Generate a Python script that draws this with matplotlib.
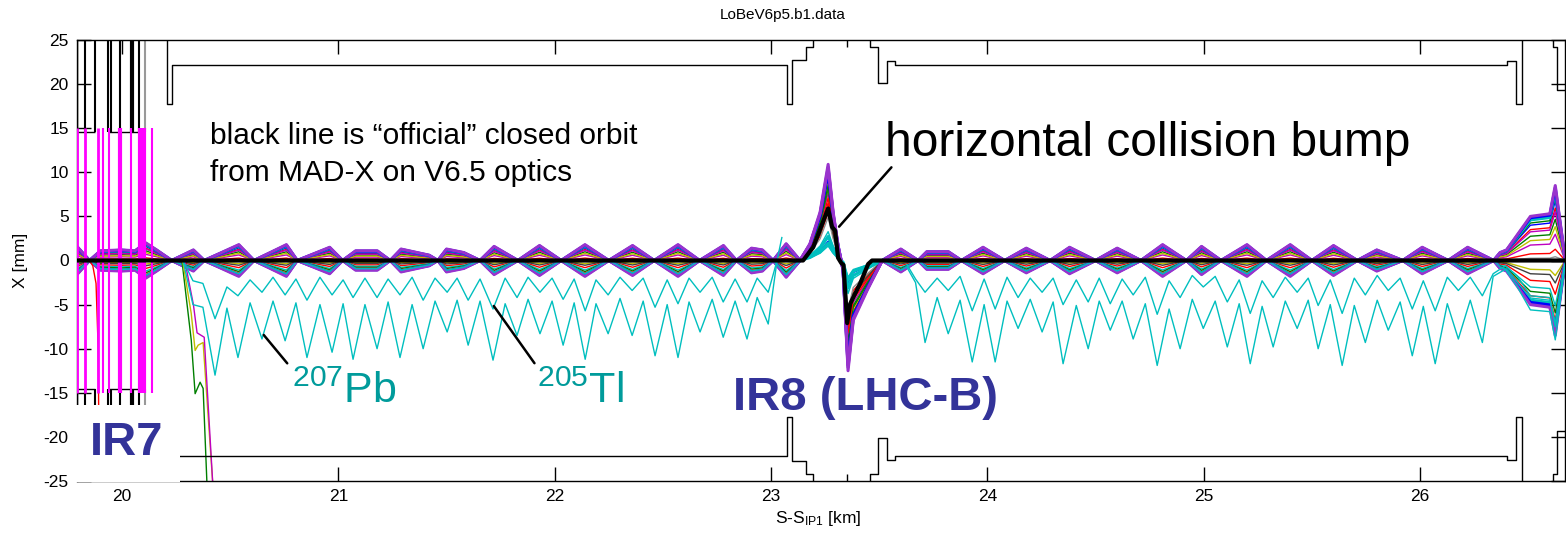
import matplotlib.pyplot as plt
import numpy as np

plt.rcParams['font.family'] = ['Liberation Sans', 'DejaVu Sans']
plt.rcParams['axes.unicode_minus'] = False
plt.rcParams['mathtext.fontset'] = 'custom'
plt.rcParams['mathtext.rm'] = 'Liberation Sans'
plt.rcParams['mathtext.it'] = 'Liberation Sans'

# outer envelope of the orbit family in the arc 7-8 [km, mm]
arc1_s = [19.792, 19.85, 19.90, 20.00, 20.06, 20.11, 20.16, 20.23, 20.33, 20.38, 20.54, 20.61,
          20.76, 20.81, 20.96, 21.02, 21.08, 21.18, 21.24, 21.29, 21.42, 21.46, 21.50, 21.58,
          21.655, 21.72, 21.83, 21.93, 22.03, 22.14, 22.25, 22.36, 22.46, 22.57, 22.67, 22.78,
          22.84, 22.91, 22.96, 23.01, 23.07, 23.134]
arc1_amp = [1.6, 0.0, 1.1, 1.2, 1.1, 2.0, 1.2, 0.0, 1.2, 0.0, 1.8, 0.0,
            1.8, 0.0, 1.5, 0.0, 1.1, 1.1, 0.0, 1.3, 0.6, 0.0, 1.3, 0.9,
            0.0, 1.6, 0.0, 1.7, 0.0, 1.8, 0.0, 1.7, 0.0, 1.8, 0.0, 1.7,
            0.0, 1.4, 1.2, 0.0, 1.9, 0.0]
# outermost orbit through the IR8 collision bump
ir8_s = [23.134, 23.18, 23.227, 23.264, 23.287, 23.31, 23.333, 23.356, 23.38, 23.444, 23.514]
ir8_x = [0.0, 1.9, 5.5, 10.9, 5.5, 1.7, -1.1, -12.5, -6.8, -3.4, 0.0]
# arc 8-1 envelope incl. the fan at the right edge
arc2_s = [23.514, 23.60, 23.68, 23.72, 23.82, 23.88, 23.98, 24.08, 24.18, 24.29, 24.38, 24.50,
          24.60, 24.71, 24.81, 24.92, 24.99, 25.08, 25.20, 25.29, 25.40, 25.50, 25.60, 25.71,
          25.80, 25.92, 26.01, 26.13, 26.22, 26.34, 26.37, 26.40, 26.51, 26.60, 26.625, 26.67]
arc2_amp = [0.0, 1.3, 0.0, 1.0, 1.0, 0.0, 1.5, 0.0, 1.4, 0.0, 1.5, 0.0,
            1.4, 0.0, 1.8, 0.0, 1.6, 0.0, 1.8, 0.0, 1.8, 0.0, 1.7, 0.0,
            1.2, 0.0, 1.5, 0.0, 1.5, 0.0, 0.9, 1.2, 5.0, 5.3, 8.5, 0.2]

line_colors = ['#ff0000', '#bfbf00', '#909090', '#ff0000', '#bf00bf', '#007f00', '#404040',
               '#ff0000', '#00bfbf', '#bfbf00', '#007f00', '#ff0000', '#bf00bf', '#0000ff',
               '#007f00', '#00bfbf', '#0000ff', '#00bfbf', '#0000ff', '#9933cc', '#9933cc',
               '#00bfbf']
env_factor = [0.15, -0.2, 0.05, -0.45, 0.35, 0.55, -0.3, 0.7, -0.6, 0.45, -0.7,
              -0.8, 0.65, 0.8, 0.85, -0.9, -0.95, 0.92, 0.97, 1.0, -1.0, -0.85]
bump_factor = [0.5, 0.55, 0.45, 0.6, 0.7, 0.75, 0.55, 0.85, 0.3, 0.8, 0.78,
               0.65, 0.9, 0.2, 0.88, 0.25, 0.92, 0.18, 0.95, 1.0, 0.97, 0.15]

# "official" closed orbit
official_s = [19.792, 23.148, 23.195, 23.264, 23.282, 23.296, 23.31, 23.325, 23.335,
              23.352, 23.366, 23.412, 23.449, 23.467, 26.67]
official_x = [0.0, 0.0, 1.5, 5.9, 3.8, 3.4, 0.3, -0.3, -0.5, -7.1, -4.9, -2.6, -0.4, 0.0, 0.0]

# 205Tl orbit
tl_s = [20.282, 20.328, 20.374, 20.430, 20.485, 20.536, 20.592, 20.647, 20.698, 20.754, 20.804,
        20.855, 20.915, 20.971, 21.022, 21.068, 21.123, 21.179, 21.230, 21.285, 21.341, 21.392,
        21.447, 21.503, 21.549, 21.600, 21.655, 21.715, 21.771, 21.826, 21.877, 21.932, 21.988,
        22.039, 22.090, 22.141, 22.191, 22.247, 22.302, 22.358, 22.409, 22.464, 22.520, 22.570,
        22.621, 22.672, 22.728, 22.779, 22.834, 22.889, 22.936, 22.987, 23.028, 23.05]
tl_x = [0.0, -2.3, -2.6, -6.6, -3.0, -4.0, -2.2, -3.6, -1.9, -3.9, -2.1,
        -4.5, -1.9, -3.9, -2.2, -4.2, -2.0, -4.2, -2.1, -3.9, -1.9, -4.5,
        -2.0, -3.6, -2.0, -4.5, -2.1, -5.5, -2.0, -4.2, -1.9, -3.6, -2.0,
        -4.4, -2.1, -5.7, -2.2, -3.9, -1.9, -3.4, -2.0, -5.3, -2.2, -4.9,
        -2.0, -3.6, -1.9, -4.7, -2.1, -4.7, -2.0, -3.6, 0.0, 2.6]
tl2_s = [23.629, 23.668, 23.712, 23.768, 23.819, 23.874, 23.930, 23.985, 24.036, 24.091, 24.142,
         24.198, 24.253, 24.304, 24.350, 24.411, 24.466, 24.517, 24.568, 24.623, 24.674, 24.730,
         24.785, 24.840, 24.891, 24.947, 24.998, 25.053, 25.109, 25.164, 25.215, 25.270, 25.321,
         25.377, 25.432, 25.483, 25.529, 25.585, 25.640, 25.696, 25.747, 25.802, 25.853, 25.908,
         25.964, 26.015, 26.070, 26.126, 26.177, 26.232, 26.288, 26.338, 26.394, 26.45, 26.51,
         26.60, 26.625, 26.67]
tl2_x = [-0.5, -2.1, -3.6, -2.0, -3.4, -1.8, -5.7, -2.1, -5.5, -1.9, -4.2,
         -2.0, -3.6, -2.0, -5.0, -2.2, -4.7, -2.0, -4.9, -2.1, -3.9, -1.9,
         -6.1, -2.3, -4.2, -1.7, -3.0, -1.8, -4.7, -2.2, -6.0, -2.3, -4.2,
         -1.9, -3.6, -2.0, -5.1, -2.2, -6.0, -2.0, -3.9, -1.7, -3.4, -2.0,
         -5.5, -2.3, -5.7, -1.9, -3.4, -1.9, -4.0, -1.5, -0.6, -1.8, -4.0,
         -4.2, -7.5, -0.5]
# 207Pb orbit
pb_s = [20.282, 20.328, 20.374, 20.430, 20.485, 20.536, 20.592, 20.647, 20.698, 20.754, 20.804,
        20.855, 20.915, 20.971, 21.022, 21.068, 21.123, 21.179, 21.230, 21.285, 21.341, 21.392,
        21.447, 21.503, 21.549, 21.600, 21.655, 21.715, 21.771, 21.826, 21.877, 21.932, 21.988,
        22.039, 22.090, 22.141, 22.191, 22.247, 22.302, 22.358, 22.409, 22.464, 22.520, 22.570,
        22.621, 22.672, 22.728, 22.779, 22.834, 22.889, 22.936, 22.987, 23.028]
pb_x = [0.0, -5.0, -5.3, -13.0, -5.4, -11.0, -4.8, -8.9, -4.6, -9.1, -4.8,
        -11.0, -5.0, -10.4, -4.9, -11.2, -5.0, -10.0, -4.7, -11.0, -5.0, -10.0,
        -4.6, -8.1, -4.5, -9.6, -4.6, -11.3, -4.9, -8.5, -4.4, -8.3, -4.6,
        -9.6, -4.8, -11.2, -4.9, -8.3, -4.3, -8.5, -4.6, -10.8, -5.0, -11.0,
        -4.7, -8.1, -4.4, -8.7, -4.6, -8.9, -4.2, -7.2, 0.0]
pb2_s = [23.629, 23.668, 23.712, 23.768, 23.819, 23.874, 23.930, 23.985, 24.036, 24.091, 24.142,
         24.198, 24.253, 24.304, 24.350, 24.411, 24.466, 24.517, 24.568, 24.623, 24.674, 24.730,
         24.785, 24.840, 24.891, 24.947, 24.998, 25.053, 25.109, 25.164, 25.215, 25.270, 25.321,
         25.377, 25.432, 25.483, 25.529, 25.585, 25.640, 25.696, 25.747, 25.802, 25.853, 25.908,
         25.964, 26.015, 26.070, 26.126, 26.177, 26.232, 26.288, 26.338, 26.394, 26.45, 26.51,
         26.60, 26.625, 26.67]
pb2_x = [-0.8, -2.5, -9.3, -4.2, -8.3, -4.5, -11.5, -5.0, -11.5, -4.6, -7.7,
         -4.4, -8.1, -4.7, -11.7, -5.1, -10.0, -4.6, -7.9, -4.6, -8.9, -4.9,
         -11.9, -5.5, -10.0, -4.4, -7.7, -4.6, -9.8, -4.9, -11.7, -5.2, -9.8,
         -4.6, -7.7, -4.5, -10.0, -5.0, -11.9, -5.1, -9.3, -4.5, -7.9, -4.7,
         -10.8, -5.2, -11.7, -4.9, -8.9, -4.5, -9.3, -1.8, -1.0, -3.0, -5.6,
         -5.8, -9.0, -0.5]

# orbits lost on the IR7 collimators
lost_s = {'#007f00': [20.277, 20.32, 20.338, 20.361, 20.375, 20.393],
          '#bfbf00': [20.28, 20.32, 20.338, 20.352, 20.375, 20.42],
          '#bf00bf': [20.29, 20.33, 20.347, 20.38, 20.42],
          '#ff0000': [19.85, 19.865, 19.88, 19.89, 19.895]}
lost_x = {'#007f00': [0.0, -9.0, -15.1, -13.8, -14.5, -25.5],
          '#bfbf00': [0.0, -6.0, -10.2, -9.6, -9.3, -25.5],
          '#bf00bf': [0.0, -5.0, -8.2, -8.7, -25.5],
          '#ff0000': [0.0, -0.6, -2.6, -10.0, -25.5]}

# collimator jaws (IR7)
jaw_s = [19.793, 19.83, 19.89, 19.913, 19.94, 19.99, 20.04, 20.085, 20.10, 20.139]
jaw_w = [2, 2, 2, 1.5, 1.5, 3, 1.5, 3, 3, 1.5]
jaw_gap = 15.0
coll_s = [19.792, 19.829, 19.875, 19.935, 19.949, 19.991, 20.046, 20.079]
coll_w = [1, 1.5, 1.5, 1.5, 1.5, 1.5, 3, 1.5]
coll_blocks = [(19.792, 19.875), (19.935, 20.079)]
coll_gap = 14.6

# mechanical aperture (upper half, lower half mirrored)
aper1_s = [20.208, 20.208, 20.231, 20.231, 23.074, 23.074, 23.097, 23.097, 23.162, 23.162, 23.195, 23.195]
aper1_x = [25.0, 17.8, 17.8, 22.2, 22.2, 17.8, 17.8, 22.7, 22.7, 24.2, 24.2, 25.0]
aper2_s = [23.458, 23.458, 23.495, 23.495, 23.537, 23.537, 23.574, 23.574, 26.403, 26.403,
           26.444, 26.444, 26.472, 26.472]
aper2_x = [25.0, 24.2, 24.2, 20.1, 20.1, 22.6, 22.6, 22.2, 22.2, 22.6, 22.6, 17.8, 17.8, 25.0]
aper3_s = [26.616, 26.616, 26.634, 26.634, 26.67]
aper3_x = [25.0, 24.2, 24.2, 19.3, 19.3]
ip8_s = 23.353

xticks = [20, 21, 22, 23, 24, 25, 26]
yticks = [-25, -20, -15, -10, -5, 0, 5, 10, 15, 20, 25]

fig = plt.figure(figsize=(15.66, 5.37), dpi=100)
ax = fig.add_axes([77 / 1566, 56 / 537, 1488 / 1566, 441 / 537])

# orbit family
for i, c in enumerate(line_colors):
    f = env_factor[i]
    g = bump_factor[i]
    s = arc1_s + ir8_s[1:-1] + arc2_s
    x = [f * a for a in arc1_amp] + [g * b for b in ir8_x[1:-1]] + [f * a for a in arc2_amp]
    lw = 2.2 if abs(f) >= 0.9 else 1.0
    ax.plot(s, x, color=c, lw=lw, zorder=2)

for c in lost_s:
    ax.plot(lost_s[c], lost_x[c], color=c, lw=1, zorder=2)

ax.plot(tl_s, tl_x, color='#00bfbf', lw=1, zorder=3)
ax.plot(tl2_s, tl2_x, color='#00bfbf', lw=1, zorder=3)
ax.plot(pb_s, pb_x, color='#00bfbf', lw=1, zorder=3)
ax.plot(pb2_s, pb2_x, color='#00bfbf', lw=1, zorder=3)

ax.plot(official_s, official_x, color='black', lw=3, zorder=4)

# aperture
for s_, x_ in [(aper1_s, aper1_x), (aper2_s, aper2_x), (aper3_s, aper3_x)]:
    ax.plot(s_, x_, color='black', lw=1, zorder=3)
    ax.plot(s_, [-v for v in x_], color='black', lw=1, zorder=3)
ax.vlines(ip8_s, 24.2, 25, color='black', lw=1)
ax.vlines(ip8_s, -25, -24.2, color='black', lw=1)

# collimators
for s_, w in zip(coll_s, coll_w):
    ax.vlines(s_, coll_gap, 25, color='black', lw=w, zorder=3)
    ax.vlines(s_, -25, -coll_gap, color='black', lw=w, zorder=3)
for a, b in coll_blocks:
    ax.hlines([coll_gap, -coll_gap], a, b, color='black', lw=1, zorder=3)
ax.vlines(20.106, coll_gap, 25, color='#999999', lw=1.5)
ax.vlines(20.106, -25, -coll_gap, color='#999999', lw=1.5)
ax.vlines(19.794, coll_gap, 25, color='#bfbf00', lw=1.5)
for s_, w in zip(jaw_s, jaw_w):
    ax.vlines(s_, -jaw_gap, jaw_gap, color='#ff00ff', lw=w, zorder=3)

ax.set_xlim(19.792, 26.67)
ax.set_ylim(-25, 25)
ax.set_xticks(xticks)
ax.set_yticks(yticks)
ax.tick_params(direction='in', length=10, width=1, top=True, right=True, labelsize=12.5, pad=6)
for sp in ax.spines.values():
    sp.set_linewidth(1)

fig.text(0.5, 1 - 15 / 537, 'LoBeV6p5.b1.data', ha='center', va='center', fontsize=11)
fig.text(20 / 1566, 1 - 260 / 537, 'X [mm]', rotation=90, ha='center', va='center', fontsize=12.5)
fig.text(818 / 1566, 1 - 519 / 537, r'S-S$_\mathrm{IP1}$ [km]', ha='center', va='center', fontsize=12.5)

# annotations
ax.text(20.407, 15.7, 'black line is \u201cofficial\u201d closed orbit\nfrom MAD-X on V6.5 optics',
        fontsize=21.5, va='top', ha='left', linespacing=1.4)
ax.text(23.527, 11.9, 'horizontal collision bump', fontsize=34.5, va='baseline', ha='left')
ax.annotate('', xy=(23.306, 3.6), xytext=(23.565, 10.8),
            arrowprops=dict(arrowstyle='-', color='black', lw=1.8))
ax.text(19.852, -22.1, 'IR7', fontsize=34, fontweight='bold', color='#333399', va='baseline',
        ha='left', zorder=6, bbox=dict(boxstyle='square,pad=0.35', fc='white', ec='none'))
ax.text(22.825, -17.0, 'IR8 (LHC-B)', fontsize=34, fontweight='bold', color='#333399',
        va='baseline', ha='left', zorder=6)
ax.text(20.786, -16.1, r'$^{207}$Pb', fontsize=31, color='#009b9b', va='baseline', ha='left')
ax.text(21.919, -16.2, r'$^{205}$Tl', fontsize=31, color='#009b9b', va='baseline', ha='left')
ax.annotate('', xy=(20.647, -8.2), xytext=(20.772, -11.9),
            arrowprops=dict(arrowstyle='-', color='black', lw=1.8))
ax.annotate('', xy=(21.711, -4.9), xytext=(21.914, -11.9),
            arrowprops=dict(arrowstyle='-', color='black', lw=1.8))

fig.savefig('out.png', dpi=100)
